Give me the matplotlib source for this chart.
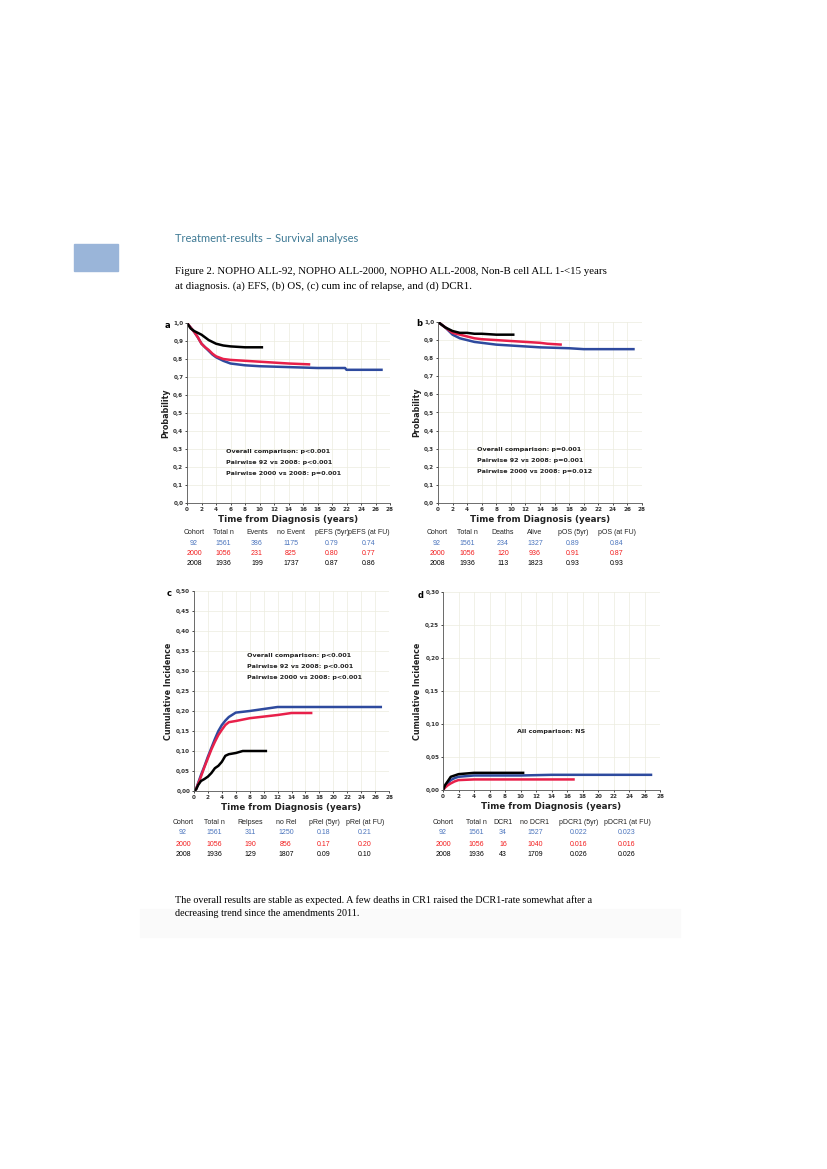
import matplotlib.pyplot as plt
from matplotlib.patches import Rectangle

W, H = 827, 1169

# ---- data ----
years = list(range(0, 29, 2))

# (a) EFS
efs_t_92 = [0, 0.5, 1, 1.5, 2, 2.5, 3, 3.5, 4, 5, 6, 8, 10, 14, 18, 21.8, 22, 27]
efs_v_92 = [1.0, 0.975, 0.95, 0.92, 0.885, 0.865, 0.845, 0.825, 0.81, 0.79, 0.775, 0.765, 0.76, 0.755, 0.75, 0.75, 0.74, 0.74]
efs_t_00 = [0, 0.5, 1, 1.5, 2, 2.5, 3, 3.5, 4, 5, 6, 8, 10, 12, 14, 17]
efs_v_00 = [1.0, 0.975, 0.95, 0.92, 0.885, 0.865, 0.85, 0.83, 0.815, 0.80, 0.795, 0.79, 0.785, 0.78, 0.775, 0.77]
efs_t_08 = [0, 0.5, 1, 1.5, 2, 3, 4, 5, 6, 8, 10.5]
efs_v_08 = [1.0, 0.97, 0.955, 0.945, 0.935, 0.905, 0.885, 0.875, 0.87, 0.865, 0.865]

# (b) OS
os_t_92 = [0, 0.5, 1, 1.5, 2, 3, 4, 5, 6, 8, 10, 12, 14, 18, 20, 27]
os_v_92 = [1.0, 0.985, 0.97, 0.95, 0.93, 0.91, 0.90, 0.89, 0.885, 0.875, 0.87, 0.865, 0.86, 0.855, 0.85, 0.85]
os_t_00 = [0, 0.5, 1, 1.5, 2, 3, 4, 5, 6, 8, 10, 12, 14, 15, 17]
os_v_00 = [1.0, 0.985, 0.97, 0.955, 0.94, 0.93, 0.92, 0.91, 0.905, 0.90, 0.895, 0.89, 0.885, 0.88, 0.875]
os_t_08 = [0, 0.5, 1, 1.5, 2, 3, 4, 5, 6, 8, 10.5]
os_v_08 = [1.0, 0.985, 0.97, 0.96, 0.95, 0.94, 0.94, 0.935, 0.935, 0.93, 0.93]

# (c) cumulative incidence of relapse
rel_t_92 = [0, 0.3, 1, 1.5, 2, 2.5, 3, 3.5, 4, 4.5, 5, 6, 7, 8, 10, 12, 27]
rel_v_92 = [0.0, 0.005, 0.04, 0.062, 0.086, 0.108, 0.13, 0.15, 0.165, 0.176, 0.185, 0.196, 0.198, 0.20, 0.205, 0.21, 0.21]
rel_t_00 = [0, 0.3, 1, 1.5, 2, 2.5, 3, 3.5, 4, 4.5, 5, 6, 8, 10, 12, 14, 17]
rel_v_00 = [0.0, 0.005, 0.036, 0.06, 0.082, 0.104, 0.123, 0.14, 0.153, 0.165, 0.172, 0.175, 0.182, 0.186, 0.19, 0.195, 0.195]
rel_t_08 = [0, 0.3, 0.6, 1, 1.5, 2, 2.5, 3, 3.5, 4, 4.5, 5, 6, 7, 10.5]
rel_v_08 = [0.0, 0.004, 0.015, 0.025, 0.03, 0.036, 0.045, 0.057, 0.063, 0.073, 0.088, 0.092, 0.095, 0.10, 0.10]

# (d) death in CR1
dcr_t_92 = [0, 0.3, 0.6, 1, 1.5, 2, 4, 10, 14, 27]
dcr_v_92 = [0.0, 0.006, 0.01, 0.015, 0.018, 0.020, 0.022, 0.022, 0.023, 0.023]
dcr_t_00 = [0, 0.3, 0.6, 1, 1.5, 2, 4, 17]
dcr_v_00 = [0.0, 0.004, 0.007, 0.010, 0.013, 0.015, 0.016, 0.016]
dcr_t_08 = [0, 0.3, 0.6, 1, 1.5, 2, 4, 10.5]
dcr_v_08 = [0.0, 0.008, 0.013, 0.020, 0.022, 0.024, 0.026, 0.026]

# tables
efs_header = ['Cohort', 'Total n', 'Events', 'no Event', 'pEFS (5yr)', 'pEFS (at FU)']
efs_rows = [['92', '1561', '386', '1175', '0.79', '0.74'],
            ['2000', '1056', '231', '825', '0.80', '0.77'],
            ['2008', '1936', '199', '1737', '0.87', '0.86']]
os_header = ['Cohort', 'Total n', 'Deaths', 'Alive', 'pOS (5yr)', 'pOS (at FU)']
os_rows = [['92', '1561', '234', '1327', '0.89', '0.84'],
           ['2000', '1056', '120', '936', '0.91', '0.87'],
           ['2008', '1936', '113', '1823', '0.93', '0.93']]
rel_header = ['Cohort', 'Total n', 'Relpses', 'no Rel', 'pRel (5yr)', 'pRel (at FU)']
rel_rows = [['92', '1561', '311', '1250', '0.18', '0.21'],
            ['2000', '1056', '190', '856', '0.17', '0.20'],
            ['2008', '1936', '129', '1807', '0.09', '0.10']]
dcr_header = ['Cohort', 'Total n', 'DCR1', 'no DCR1', 'pDCR1 (5yr)', 'pDCR1 (at FU)']
dcr_rows = [['92', '1561', '34', '1527', '0.022', '0.023'],
            ['2000', '1056', '16', '1040', '0.016', '0.016'],
            ['2008', '1936', '43', '1709', '0.026', '0.026']]

line_cols = ['#2e4a9e', '#e8204a', 'black']
text_cols = ['#4a74bd', '#f21c1c', 'black']

fig = plt.figure(figsize=(8.27, 11.69), dpi=100)


def box(x0, y0, x1, y1):
    return [x0 / W, 1 - y1 / H, (x1 - x0) / W, (y1 - y0) / H]


def put(x, y, s, **kw):
    kw.setdefault('va', 'center')
    fig.text(x / W, 1 - y / H, s, **kw)


# page decorations
fig.patches.append(Rectangle((140 / W, 1 - 937 / H), 540 / W, 28 / H, transform=fig.transFigure,
                             color='#fafafa', zorder=0))
fig.patches.append(Rectangle((74 / W, 1 - 271 / H), 44 / W, 27 / H, transform=fig.transFigure,
                             color='#9ab5d9', zorder=0))
put(175, 239, 'Treatment-results \u2013 Survival analyses', fontsize=8, color='#3f7a95', family='Lato')
put(175, 272, 'Figure 2. NOPHO ALL-92, NOPHO ALL-2000, NOPHO ALL-2008, Non-B cell ALL 1-<15 years',
    fontsize=7.8, family='Liberation Serif')
put(175, 286, 'at diagnosis. (a) EFS, (b) OS, (c) cum inc of relapse, and (d) DCR1.',
    fontsize=7.8, family='Liberation Serif')
put(175, 900, 'The overall results are stable as expected. A few deaths in CR1 raised the DCR1-rate somewhat after a',
    fontsize=7.3, family='Liberation Serif')
put(175, 913, 'decreasing trend since the amendments 2011.', fontsize=7.3, family='Liberation Serif')


def panel(rect, curves, ymax, ystep, ylabel, letter, letter_xy, notes, note_xy, note_dy):
    ax = fig.add_axes(box(*rect))
    for (t, v), c in zip(curves, line_cols):
        ax.plot(t, v, color=c, lw=1.8, solid_capstyle='butt', solid_joinstyle='round')
    ax.set_xlim(0, 28)
    ax.set_ylim(0, ymax)
    ax.set_xticks(years)
    n = int(round(ymax / ystep))
    yt = [i * ystep for i in range(n + 1)]
    ax.set_yticks(yt)
    dec = 1 if ystep >= 0.1 else 2
    ax.set_yticklabels([f'{y:.{dec}f}'.replace('.', ',') for y in yt])
    ax.tick_params(labelsize=4.1, length=1.5, width=0.5, pad=1.2)
    for lb in ax.get_xticklabels() + ax.get_yticklabels():
        lb.set_fontweight('bold')
        lb.set_color('#333333')
    ax.grid(True, color='#ececdf', lw=0.5)
    ax.set_axisbelow(True)
    for s in ['top', 'right']:
        ax.spines[s].set_visible(False)
    for s in ['left', 'bottom']:
        ax.spines[s].set_linewidth(0.6)
        ax.spines[s].set_color('#555555')
    ax.set_xlabel('Time from Diagnosis (years)', fontsize=6.3, fontweight='bold', labelpad=2, color='#222222')
    ax.set_ylabel(ylabel, fontsize=5.8, fontweight='bold', labelpad=2, color='#222222')
    put(letter_xy[0], letter_xy[1], letter, fontsize=6, fontweight='bold')
    for i, note in enumerate(notes):
        put(note_xy[0], note_xy[1] + i * note_dy, note, fontsize=4.6, fontweight='bold', color='#222222')
    return ax


def table(header, rows, xs, y0, dy, fs=5.0):
    for x, h in zip(xs, header):
        put(x, y0, h, fontsize=fs, family='Liberation Sans', ha='center', color='#222222')
    for r, row in enumerate(rows):
        for x, val in zip(xs, row):
            put(x, y0 + (r + 1) * dy, val, fontsize=fs, family='Liberation Sans', ha='center',
                color=text_cols[r])


panel((187, 323, 390, 503), [(efs_t_92, efs_v_92), (efs_t_00, efs_v_00), (efs_t_08, efs_v_08)],
      1.0, 0.1, 'Probability', 'a', (165, 325),
      ['Overall comparison: p<0.001', 'Pairwise 92 vs 2008: p<0.001', 'Pairwise 2000 vs 2008: p=0.001'],
      (226, 452), 10.5)
panel((438, 322, 642, 503), [(os_t_92, os_v_92), (os_t_00, os_v_00), (os_t_08, os_v_08)],
      1.0, 0.1, 'Probability', 'b', (416, 324),
      ['Overall comparison: p=0.001', 'Pairwise 92 vs 2008: p=0.001', 'Pairwise 2000 vs 2008: p=0.012'],
      (477, 450), 10.5)
panel((194, 591, 389, 791), [(rel_t_92, rel_v_92), (rel_t_00, rel_v_00), (rel_t_08, rel_v_08)],
      0.5, 0.05, 'Cumulative Incidence', 'c', (167, 593),
      ['Overall comparison: p<0.001', 'Pairwise 92 vs 2008: p<0.001', 'Pairwise 2000 vs 2008: p<0.001'],
      (247, 656), 10.5)
panel((443, 592, 660, 790), [(dcr_t_92, dcr_v_92), (dcr_t_00, dcr_v_00), (dcr_t_08, dcr_v_08)],
      0.3, 0.05, 'Cumulative Incidence', 'd', (418, 596),
      ['All comparison: NS'], (517, 731), 10.5)

table(efs_header, efs_rows, [194, 223, 257, 291, 332, 369], 533, 10.2)
table(os_header, os_rows, [437, 467, 503, 535, 573, 617], 533, 10.2)
table(rel_header, rel_rows, [183, 214, 250, 286, 324, 365], 822, 11)
table(dcr_header, dcr_rows, [443, 476, 503, 535, 579, 627], 822, 11)

fig.savefig('out.png', dpi=100)
